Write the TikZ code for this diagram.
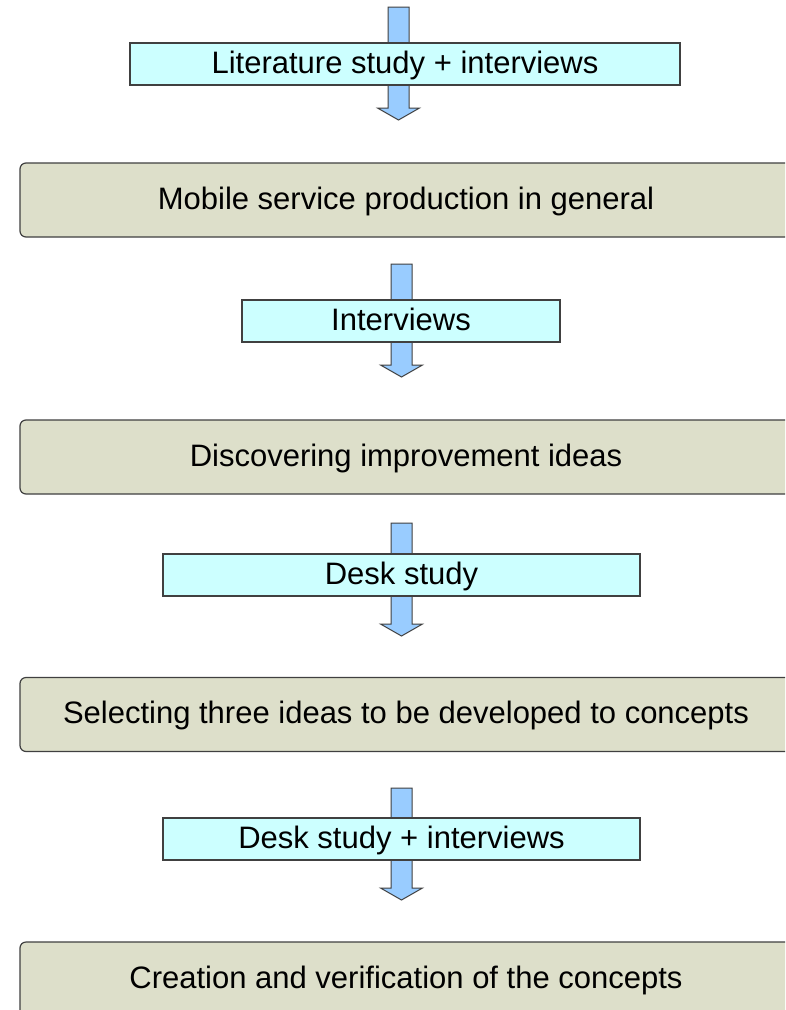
\documentclass[tikz,border=0pt]{standalone}
\usepackage{fontspec}
\setmainfont{Liberation Sans}
\usetikzlibrary{calc}
\definecolor{greyfill}{RGB}{221,223,202}
\definecolor{cyanfill}{RGB}{204,255,255}
\definecolor{arrowfill}{RGB}{153,204,255}
\definecolor{edgegrey}{RGB}{64,64,64}
\tikzset{
  stagebox/.style={draw=edgegrey, line width=1.2pt, fill=greyfill, rounded corners=6pt,
    minimum width=772pt, minimum height=74pt, inner sep=0pt, text height=24pt, text depth=6pt,
    font=\fontsize{31}{37}\selectfont},
  methodbox/.style={draw=edgegrey, line width=1.2pt, fill=cyanfill,
    minimum height=42pt, inner sep=0pt, text height=24pt, text depth=6pt,
    font=\fontsize{31}{37}\selectfont},
  blockarrow/.style={draw=edgegrey, line width=1pt, fill=arrowfill, line join=miter}
}
\newcommand{\myblockarrow}[2]{%
  \path[blockarrow] ($(#1)+(-10.5,0)$) -- ($(#1)+(10.5,0)$) -- ($(#2)+(10.5,-12)$)
    -- ($(#2)+(21,-12)$) -- (#2) -- ($(#2)+(-21,-12)$) -- ($(#2)+(-10.5,-12)$) -- cycle;}
\begin{document}
\begin{tikzpicture}[x=1pt,y=-1pt]
\clip (0,0) rectangle (785,1010);
\fill[white] (0,0) rectangle (785,1010);
% arrows (behind method boxes)
\coordinate (a1s) at (398.5,7);   \coordinate (a1e) at (398.5,120);
\coordinate (a2s) at (401.5,264); \coordinate (a2e) at (401.5,377);
\coordinate (a3s) at (401.5,523); \coordinate (a3e) at (401.5,636);
\coordinate (a4s) at (401.5,788); \coordinate (a4e) at (401.5,900);
\myblockarrow{a1s}{a1e}
\myblockarrow{a2s}{a2e}
\myblockarrow{a3s}{a3e}
\myblockarrow{a4s}{a4e}
% method boxes
\node[methodbox, minimum width=550pt] (m1) at (405,64) {Literature study + interviews};
\node[methodbox, minimum width=318pt] (m2) at (401,321) {Interviews};
\node[methodbox, minimum width=477pt] (m3) at (401.5,575) {Desk study};
\node[methodbox, minimum width=477pt] (m4) at (401.5,839) {Desk study + interviews};
% stage boxes
\node[stagebox] (s1) at (406,200) {Mobile service production in general};
\node[stagebox] (s2) at (406,457) {Discovering improvement ideas};
\node[stagebox] (s3) at (406,714.5) {Selecting three ideas to be developed to concepts};
\node[stagebox] (s4) at (406,979) {Creation and verification of the concepts};
\end{tikzpicture}
\end{document}
